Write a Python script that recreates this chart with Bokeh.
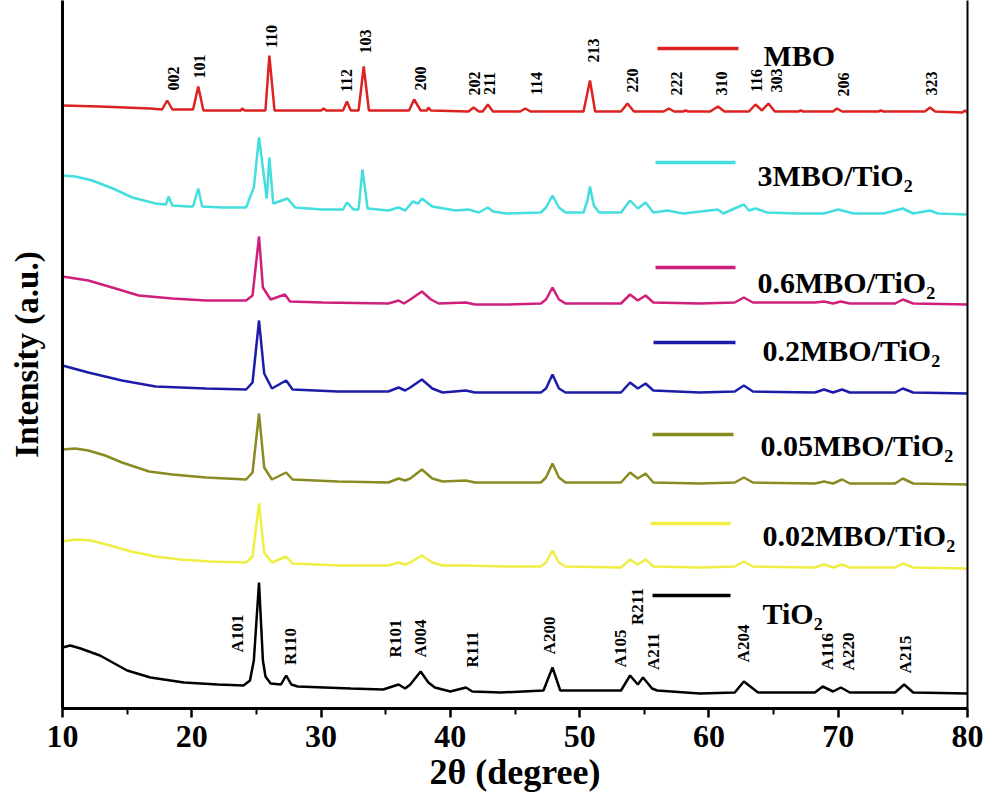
import numpy as np
from bokeh.plotting import figure
from bokeh.models import Range1d, LinearAxis, FixedTicker, Label, BoxAnnotation
from bokeh.embed import file_html
from bokeh.resources import INLINE
from bokeh.core.properties import value

FONT = "Liberation Serif"

# ---------------- data (2theta in degree, intensity in a.u., stacked) ----------------
x_ticks = [10, 20, 30, 40, 50, 60, 70, 80]
x_minor = [15, 25, 35, 45, 55, 65, 75]

tt_mbo = [10.0, 12.9, 16.8, 17.7, 18.1, 18.5, 20.1, 20.5, 20.9, 23.8, 23.9, 24.1, 25.7, 26.0, 26.4,
          30.0, 30.2, 30.4, 31.7, 32.0, 32.3, 32.9, 33.3, 33.7, 36.8, 37.2, 37.7, 38.2, 38.3, 38.5,
          41.4, 41.8, 42.2, 42.5, 42.9, 43.3, 45.4, 45.8, 46.2, 50.3, 50.8, 51.2, 53.2, 53.7, 54.2,
          56.5, 56.9, 57.3, 58.0, 58.2, 58.4, 60.1, 60.7, 61.2, 63.1, 63.6, 64.1, 64.6, 65.1,
          66.9, 67.1, 67.3, 69.6, 69.9, 70.3, 73.1, 73.3, 73.5, 76.7, 77.1, 77.5, 79.6, 79.8, 80.0]
I_mbo = [603, 602, 600, 599, 608, 599, 599, 622, 598, 598, 600, 598, 598, 653, 598,
         598, 600, 598, 598, 607, 598, 598, 642, 598, 598, 609, 598, 598, 601, 598,
         597, 601, 597, 597, 604, 597, 597, 600, 597, 597, 628, 597, 597, 605, 597,
         597, 600, 597, 597, 598, 597, 597, 602, 597, 597, 604, 598, 605, 597,
         597, 598, 597, 597, 600, 597, 597, 598, 597, 597, 601, 597, 596, 598, 596]

tt_3mbo = [10.0, 11.0, 12.3, 13.9, 15.4, 17.2, 18.0, 18.2, 18.5, 19.7, 20.1, 20.5, 20.8, 22.4, 24.2,
           24.8, 25.2, 25.8, 26.0, 26.3, 27.4, 28.0, 30.1, 31.7, 32.0, 32.5, 32.9, 33.2, 33.6, 35.2,
           36.0, 36.5, 37.1, 37.5, 37.8, 38.6, 40.4, 41.4, 42.2, 42.9, 43.3, 44.3, 47.0, 47.4, 47.9,
           48.4, 48.9, 50.3, 50.6, 50.8, 51.1, 51.5, 53.2, 53.9, 54.5, 55.1, 55.7, 56.8, 58.0, 60.7,
           61.1, 62.7, 63.1, 63.6, 64.5, 66.8, 68.9, 70.0, 71.2, 73.5, 75.0, 75.8, 77.1, 77.7, 80.0]
I_3mbo = [533, 532, 528, 520, 511, 505, 504, 512, 503, 502, 502, 520, 502, 501, 501,
          521, 571, 510, 551, 505, 510, 501, 499, 499, 506, 499, 499, 539, 500, 498,
          501, 498, 507, 505, 510, 502, 498, 499, 496, 501, 497, 495, 496, 501, 513,
          501, 496, 496, 508, 522, 503, 496, 496, 508, 500, 506, 496, 498, 495, 499,
          495, 504, 498, 500, 496, 495, 495, 499, 495, 495, 500, 495, 498, 495, 494]

tt_06 = [10.0, 12.0, 14.1, 15.9, 18.5, 21.1, 24.2, 24.7, 25.2, 25.5, 26.1, 27.2, 27.6, 30.1, 35.2,
         36.0, 36.4, 36.9, 37.8, 38.5, 39.1, 41.2, 41.9, 44.3, 47.0, 47.4, 47.9, 48.4, 48.9, 53.2,
         53.9, 54.5, 55.1, 55.7, 59.3, 62.0, 62.7, 63.4, 68.2, 68.9, 69.6, 70.2, 70.9, 74.4, 75.0,
         75.8, 80.0]
I_06 = [432, 428, 420, 413, 410, 408, 408, 413, 472, 421, 409, 414, 407, 406, 405,
        408, 405, 409, 417, 409, 405, 406, 404, 404, 405, 409, 421, 409, 405, 405,
        414, 408, 413, 406, 405, 406, 411, 406, 406, 407, 405, 407, 405, 405, 409,
        405, 404]

tt_02 = [10.0, 12.0, 14.6, 17.2, 21.1, 24.2, 24.7, 25.2, 25.6, 26.2, 27.3, 27.8, 31.3, 35.2, 36.0,
         36.5, 36.9, 37.8, 38.6, 39.4, 41.2, 41.9, 44.3, 47.0, 47.4, 47.9, 48.4, 48.9, 53.2, 53.9,
         54.5, 55.1, 55.7, 59.3, 62.0, 62.7, 63.4, 68.2, 68.9, 69.6, 70.3, 70.9, 74.4, 75.0, 75.8,
         80.0]
I_02 = [343, 336, 328, 322, 320, 319, 326, 388, 335, 320, 328, 319, 317, 317, 321,
        318, 321, 329, 320, 316, 318, 316, 316, 316, 320, 334, 320, 316, 316, 326,
        320, 325, 318, 316, 317, 323, 317, 316, 319, 316, 319, 316, 316, 320, 316,
        315]

tt_005 = [10.0, 11.0, 12.0, 13.3, 14.6, 16.7, 18.5, 21.1, 24.2, 24.7, 25.2, 25.6, 26.2, 27.3, 27.8,
          31.3, 35.2, 36.0, 36.5, 36.9, 37.8, 38.6, 39.4, 41.2, 41.9, 44.3, 47.0, 47.4, 47.9, 48.4,
          48.9, 53.2, 53.9, 54.5, 55.1, 55.7, 59.3, 62.0, 62.7, 63.4, 68.2, 68.9, 69.6, 70.3, 70.9,
          74.4, 75.0, 75.8, 80.0]
I_005 = [259, 260, 258, 253, 246, 237, 234, 231, 229, 236, 295, 241, 229, 236, 229,
         227, 226, 230, 228, 230, 239, 230, 227, 228, 226, 226, 226, 231, 245, 231,
         226, 226, 236, 230, 235, 226, 225, 226, 231, 226, 225, 227, 225, 229, 225,
         225, 230, 225, 224]

tt_002 = [10.0, 11.0, 12.2, 13.7, 15.3, 17.2, 19.1, 21.4, 24.2, 24.7, 25.2, 25.6, 26.2, 27.3, 27.8,
          31.5, 35.2, 36.0, 36.5, 36.9, 37.8, 38.6, 39.4, 41.2, 44.3, 47.0, 47.4, 47.9, 48.4, 48.9,
          53.2, 53.9, 54.5, 55.1, 55.7, 59.3, 62.0, 62.7, 63.4, 68.2, 68.9, 69.6, 70.3, 70.9, 74.4,
          75.0, 75.8, 80.0]
I_002 = [167, 169, 168, 163, 157, 152, 149, 147, 146, 152, 205, 156, 146, 152, 145,
         143, 143, 146, 144, 146, 153, 146, 143, 143, 142, 142, 146, 158, 146, 142,
         141, 149, 144, 149, 142, 141, 142, 147, 142, 141, 144, 141, 144, 141, 141,
         145, 141, 140]

tt_tio2 = [10.0, 10.6, 11.4, 12.9, 15.0, 16.8, 19.4, 22.0, 24.0, 24.5, 24.8, 25.2, 25.5, 25.7, 26.1,
           26.9, 27.3, 27.7, 28.2, 32.3, 34.8, 36.0, 36.5, 36.9, 37.7, 38.3, 38.8, 40.0, 41.2, 41.7,
           43.9, 47.2, 47.9, 48.5, 53.2, 53.9, 54.5, 54.9, 55.6, 56.0, 59.3, 62.0, 62.7, 63.8, 68.2,
           68.8, 69.6, 70.2, 70.9, 74.4, 75.1, 75.8, 80.0]
I_tio2 = [61, 63, 60, 53, 38, 31, 26, 24, 23, 28, 48, 126, 48, 32, 25,
          24, 33, 24, 22, 20, 19, 24, 20, 24, 37, 26, 21, 17, 21, 17,
          16, 18, 41, 18, 18, 33, 24, 31, 20, 18, 15, 16, 27, 16, 16,
          22, 17, 21, 16, 16, 24, 16, 15]

series_names = ["MBO", "3MBO/TiO\u2082", "0.6MBO/TiO\u2082", "0.2MBO/TiO\u2082",
                "0.05MBO/TiO\u2082", "0.02MBO/TiO\u2082", "TiO\u2082"]
series_colors = ["#dd2222", "#44dede", "#cf1f7c", "#1c1ca8", "#8a8a22", "#eeee44", "#000000"]
series_x = [tt_mbo, tt_3mbo, tt_06, tt_02, tt_005, tt_002, tt_tio2]
series_y = [I_mbo, I_3mbo, I_06, I_02, I_005, I_002, I_tio2]

# MBO reflections (hkl) and TiO2 reflections (A = anatase, R = rutile)
mbo_hkl = ["002", "101", "110", "112", "103", "200", "202", "211", "114", "213", "220",
           "222", "310", "116", "303", "206", "323"]
mbo_hkl_tt = [18.6, 20.6, 26.2, 32.0, 33.4, 37.7, 41.9, 43.0, 46.7, 51.1, 54.1,
              57.5, 61.0, 63.7, 65.2, 70.4, 77.2]
mbo_hkl_I = [630, 642, 672, 628, 667, 630, 625, 625, 625, 658, 628,
             625, 625, 628, 628, 624, 625]

tio2_hkl = ["A101", "R110", "R101", "A004", "R111", "A200", "A105", "R211", "A211",
            "A204", "A116", "A220", "A215"]
tio2_hkl_tt = [23.5, 27.6, 35.75, 37.7, 41.7, 47.7, 53.15, 54.5, 55.7,
               62.7, 69.15, 70.8, 75.2]
tio2_hkl_I = [75, 62, 70, 70, 59, 73, 60, 102, 57,
              65, 57, 57, 54]

# ---------------- figure ----------------
p = figure(width=985, height=798, x_range=Range1d(10, 80), y_range=Range1d(0, 708),
           output_backend="svg", toolbar_location=None,
           min_border_left=62, min_border_right=18, min_border_top=0, min_border_bottom=90)
p.outline_line_color = None
p.xgrid.grid_line_color = None
p.ygrid.grid_line_color = None
p.background_fill_color = "white"
p.border_fill_color = "white"

for xs, ys, c in zip(series_x, series_y, series_colors):
    p.line(xs, ys, line_color=c, line_width=2.5)

p.text(x=mbo_hkl_tt, y=mbo_hkl_I, text=mbo_hkl, angle=np.pi / 2,
       text_font=value(FONT), text_font_style="bold", text_font_size="16px",
       text_align="center", text_baseline="middle", text_color="black")
p.text(x=tio2_hkl_tt, y=tio2_hkl_I, text=tio2_hkl, angle=np.pi / 2,
       text_font=value(FONT), text_font_style="bold", text_font_size="17px",
       text_align="center", text_baseline="middle", text_color="black")

# axes
xa = p.xaxis[0]
xa.ticker = FixedTicker(ticks=x_ticks, minor_ticks=x_minor)
xa.axis_line_width = 3
xa.axis_line_color = "black"
xa.major_tick_line_width = 2.5
xa.minor_tick_line_width = 2
xa.major_tick_line_color = "black"
xa.minor_tick_line_color = "black"
xa.major_tick_in = 0
xa.major_tick_out = 9
xa.minor_tick_in = 0
xa.minor_tick_out = 6
xa.major_label_text_font = FONT
xa.major_label_text_font_style = "bold"
xa.major_label_text_font_size = "32px"
xa.major_label_text_color = "black"
xa.major_label_standoff = 8
xa.axis_label = "2\u03b8 (degree)"
xa.axis_label_text_font = FONT
xa.axis_label_text_font_style = "bold"
xa.axis_label_text_font_size = "36px"
xa.axis_label_text_color = "black"
xa.axis_label_standoff = 2

ya = p.yaxis[0]
ya.ticker = FixedTicker(ticks=[])
ya.axis_line_width = 3
ya.axis_line_color = "black"
ya.major_tick_line_color = None
ya.minor_tick_line_color = None
ya.major_label_text_font_size = "0px"
ya.axis_label = "Intensity (a.u.)"
ya.axis_label_text_font = FONT
ya.axis_label_text_font_style = "bold"
ya.axis_label_text_font_size = "33px"
ya.axis_label_text_color = "black"
ya.axis_label_standoff = 18

ra = LinearAxis(ticker=FixedTicker(ticks=[]), axis_line_width=2, axis_line_color="black",
                major_tick_line_color=None, minor_tick_line_color=None,
                major_label_text_font_size="0px")
p.add_layout(ra, "right")

# legend (layout positions in canvas pixels)
leg_line_y = [48, 162, 267, 342, 434, 523, 595]
leg_line_x0 = [657, 655, 655, 653, 652, 650, 652]
leg_line_x1 = [738, 735, 735, 735, 733, 730, 730]
leg_text_x = [763, 757, 757, 762, 760, 762, 762]
leg_text_base = [55, 175, 282, 350, 445, 535, 613]

for i, (name, c) in enumerate(zip(series_names, series_colors)):
    p.add_layout(BoxAnnotation(left=leg_line_x0[i], right=leg_line_x1[i],
                               top=leg_line_y[i] - 1.7, bottom=leg_line_y[i] + 1.7,
                               left_units="canvas", right_units="canvas",
                               top_units="canvas", bottom_units="canvas",
                               fill_color=c, fill_alpha=1.0, line_color=None))
    p.add_layout(Label(x=leg_text_x[i], y=leg_text_base[i], x_units="canvas", y_units="canvas",
                       text=name, text_font=FONT, text_font_style="bold",
                       text_font_size="30px", text_color="black",
                       text_align="left", text_baseline="alphabetic"))

open("out.html", "w").write(file_html(p, INLINE))
